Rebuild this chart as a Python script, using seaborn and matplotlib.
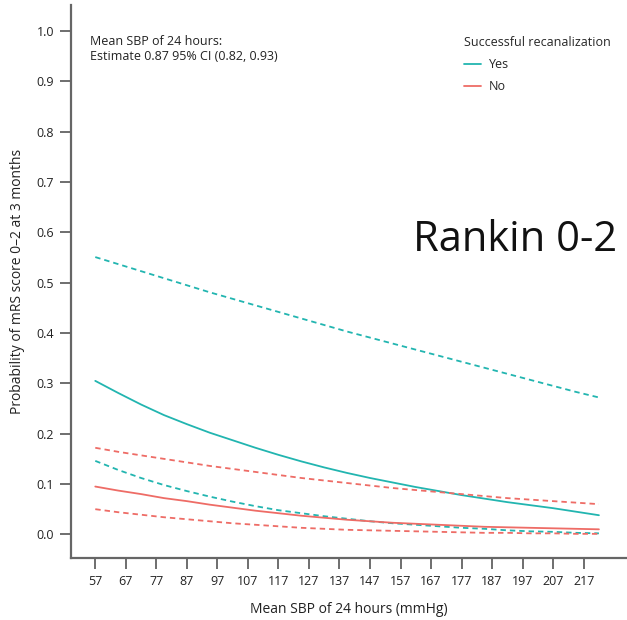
import matplotlib
matplotlib.use("Agg")
import matplotlib.pyplot as plt
import pandas as pd
import seaborn as sns
from matplotlib.lines import Line2D

sbp = [57, 64.5, 72, 79.5, 87, 94.5, 102, 109.5, 117, 124.5, 132, 139.5,
       147, 154.5, 162, 169.5, 177, 184.5, 192, 199.5, 207, 214.5, 222]

yes_est = [0.305, 0.281, 0.258, 0.237, 0.219, 0.202, 0.187, 0.172, 0.158, 0.145, 0.133, 0.122,
           0.112, 0.103, 0.094, 0.086, 0.078, 0.071, 0.064, 0.058, 0.052, 0.045, 0.038]
yes_hi = [0.551, 0.537, 0.523, 0.509, 0.495, 0.481, 0.468, 0.455, 0.442, 0.429, 0.416, 0.403,
          0.391, 0.379, 0.367, 0.355, 0.343, 0.331, 0.319, 0.307, 0.295, 0.283, 0.272]
yes_lo = [0.146, 0.128, 0.112, 0.098, 0.086, 0.075, 0.065, 0.056, 0.048, 0.042, 0.036, 0.031,
          0.026, 0.022, 0.019, 0.016, 0.013, 0.011, 0.008, 0.006, 0.005, 0.003, 0.002]

no_est = [0.095, 0.087, 0.080, 0.072, 0.066, 0.059, 0.053, 0.047, 0.042, 0.037, 0.033, 0.029,
          0.026, 0.023, 0.021, 0.019, 0.017, 0.015, 0.014, 0.013, 0.012, 0.011, 0.010]
no_hi = [0.172, 0.164, 0.157, 0.150, 0.143, 0.136, 0.130, 0.124, 0.118, 0.112, 0.107, 0.102,
         0.097, 0.092, 0.088, 0.084, 0.080, 0.076, 0.072, 0.069, 0.066, 0.063, 0.060]
no_lo = [0.050, 0.044, 0.039, 0.034, 0.030, 0.026, 0.022, 0.019, 0.016, 0.013, 0.011, 0.009,
         0.008, 0.007, 0.006, 0.005, 0.004, 0.003, 0.003, 0.002, 0.002, 0.001, 0.001]

xticks = [57, 67, 77, 87, 97, 107, 117, 127, 137, 147, 157, 167, 177, 187, 197, 207, 217]
yticks = [0.0, 0.1, 0.2, 0.3, 0.4, 0.5, 0.6, 0.7, 0.8, 0.9, 1.0]

TEAL = "#22b5b0"
SALMON = "#ee6c66"

rows = []
for grp, series in [("Yes", [("est", yes_est), ("hi", yes_hi), ("lo", yes_lo)]),
                    ("No", [("est", no_est), ("hi", no_hi), ("lo", no_lo)])]:
    for kind, vals in series:
        for x, v in zip(sbp, vals):
            rows.append({"SBP": x, "prob": v, "group": grp, "kind": kind,
                         "line": grp + "_" + kind})
df = pd.DataFrame(rows)

sns.set_style("white")
plt.rcParams["font.family"] = ["Open Sans", "DejaVu Sans"]

fig = plt.figure(figsize=(6.27, 6.2), dpi=100)
ax = fig.add_axes([0.113, 0.1, 0.887, 0.892])

sns.lineplot(data=df, x="SBP", y="prob", hue="group", style="kind", units="line",
             estimator=None, palette={"Yes": TEAL, "No": SALMON},
             dashes={"est": "", "hi": (3, 2.2), "lo": (3, 2.2)},
             linewidth=1.3, legend=False, ax=ax)

ax.set_xlim(49.0, 231.2)
ax.set_ylim(-0.047, 1.052)
ax.set_xticks(xticks)
ax.set_yticks(yticks)
ax.set_yticklabels([f"{t:.1f}" for t in yticks])
ax.tick_params(axis="both", direction="out", length=8, width=1.2, color="#555555",
               labelsize=9, labelcolor="#222222", left=True, bottom=True, pad=4)
for side in ["top", "right"]:
    ax.spines[side].set_visible(False)
for side in ["left", "bottom"]:
    ax.spines[side].set_color("#666666")
    ax.spines[side].set_linewidth(1.6)

ax.set_xlabel("Mean SBP of 24 hours (mmHg)", fontsize=10, color="#222222", labelpad=10)
ax.set_ylabel("Probability of mRS score 0\u20132 at 3 months", fontsize=10,
              color="#222222", labelpad=8)

ax.text(0.034, 0.946, "Mean SBP of 24 hours:\nEstimate 0.87 95% CI (0.82, 0.93)",
        transform=ax.transAxes, fontsize=9, color="#222222", va="top", ha="left",
        linespacing=1.25)

handles = [Line2D([0], [0], color=TEAL, lw=1.3), Line2D([0], [0], color=SALMON, lw=1.3)]
leg = ax.legend(handles, ["Yes", "No"], title="Successful recanalization",
                loc="upper left", bbox_to_anchor=(0.686, 0.965), frameon=False,
                fontsize=9, title_fontsize=9, handlelength=1.4, handletextpad=0.6,
                labelspacing=0.75, alignment="left")

fig.text(0.658, 0.613, "Rankin 0-2", fontsize=30, color="#111111", ha="left", va="center")

fig.savefig("out.png", dpi=100)
